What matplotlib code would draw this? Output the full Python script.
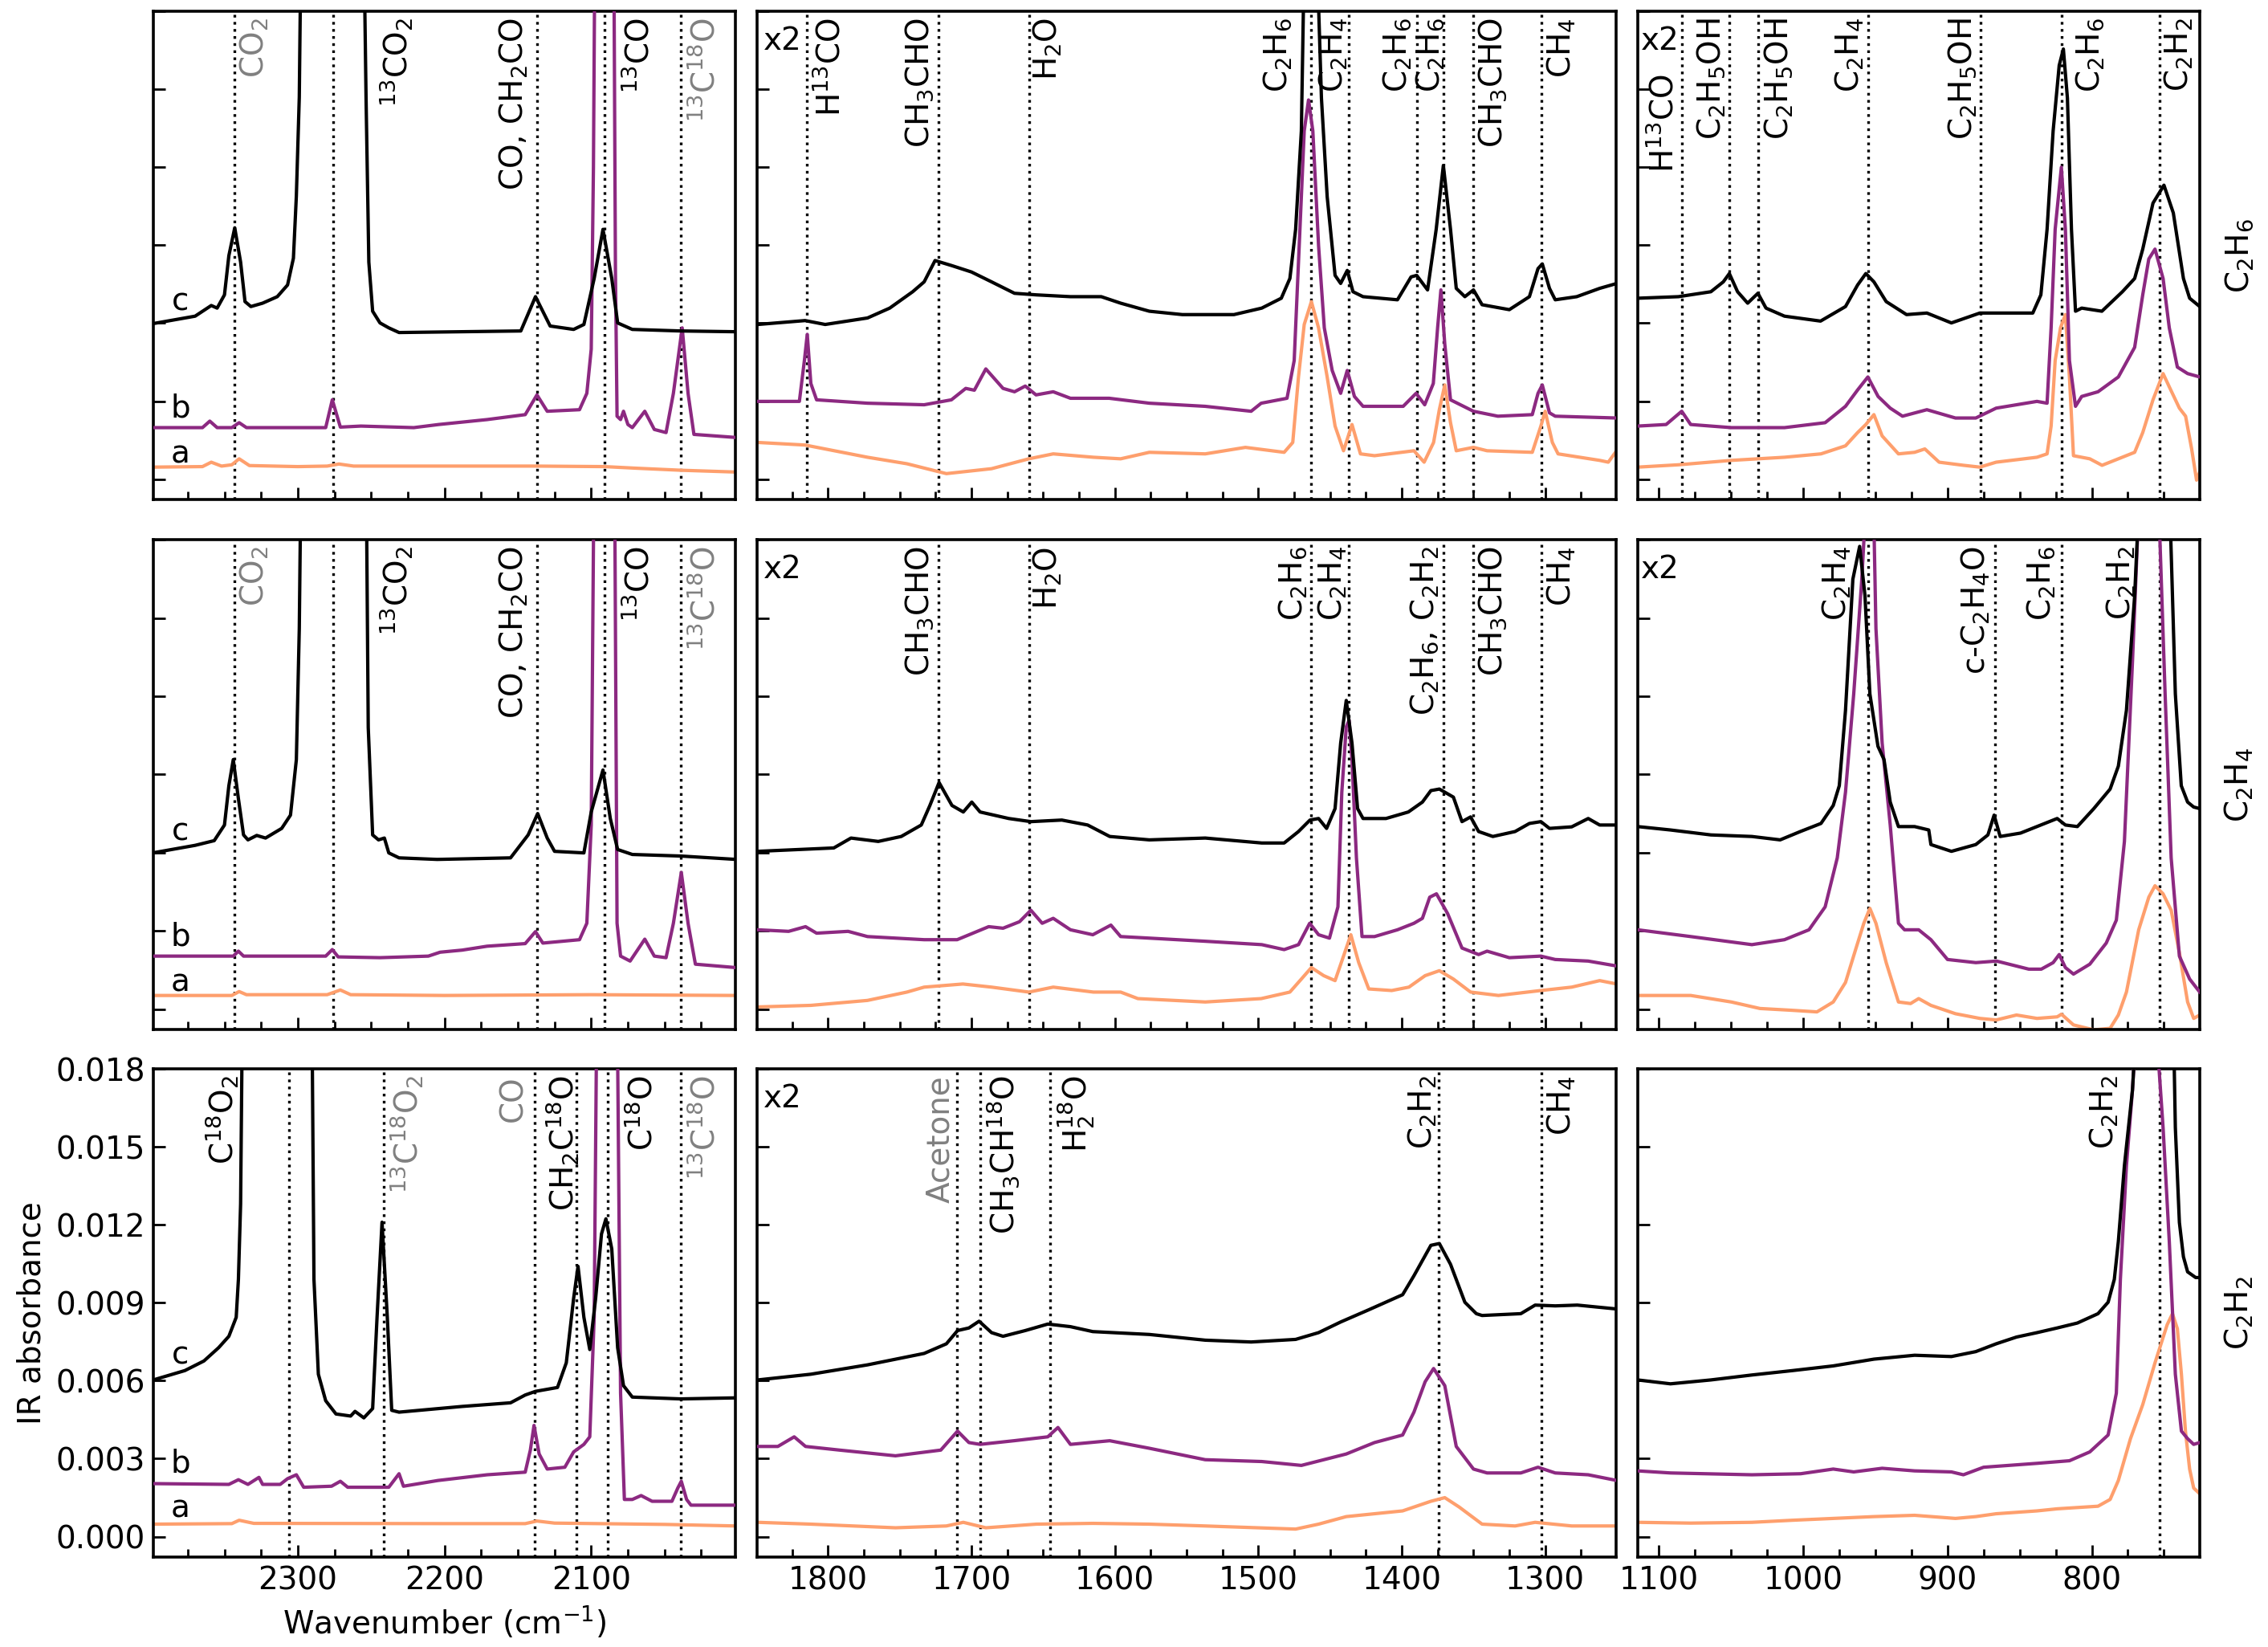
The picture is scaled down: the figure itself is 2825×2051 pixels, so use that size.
import numpy as np
import matplotlib
matplotlib.use('Agg')
import matplotlib.pyplot as plt
from matplotlib.ticker import MultipleLocator, FormatStrFormatter, NullFormatter

plt.rcParams['font.family'] = ['DejaVu Sans']
plt.rcParams['mathtext.default'] = 'regular'
plt.rcParams['font.size'] = 14

# ---------------- data (wavenumber cm^-1, absorbance x 1e3 as plotted) ----------------
MILLI = 1e-3
XLIMS = [(2398.5, 2001.5), (1849.5, 1250.5), (1114.7, 725.2)]
YLIM = (-0.0008, 0.018)
YTICKS = [0.0, 0.003, 0.006, 0.009, 0.012, 0.015, 0.018]
ROW_NAMES = [r'C$_2$H$_6$', r'C$_2$H$_4$', r'C$_2$H$_2$']
CURVE_LETTERS = ['a', 'b', 'c']

# ---- C2H6 row ----
c2h6_hi_a = [(2399, 0.46), (2365, 0.48), (2359, 0.65), (2352, 0.50), (2345, 0.55), (2340, 0.78),
             (2333, 0.52), (2300, 0.48), (2280, 0.50), (2272, 0.58), (2262, 0.50), (2138, 0.50),
             (2091, 0.48), (2070, 0.42), (2039, 0.34), (2001, 0.27)]
c2h6_hi_b = [(2399, 1.98), (2365, 1.98), (2360, 2.23), (2355, 1.98), (2345, 1.98), (2340, 2.17),
             (2335, 1.98), (2281, 1.98), (2276.5, 3.05), (2271, 2.00), (2257, 2.04), (2221, 1.98),
             (2204, 2.10), (2171, 2.29), (2145, 2.48), (2137, 3.24), (2130, 2.61), (2108, 2.67),
             (2103, 3.30), (2100, 5.0), (2098.5, 12), (2097, 25), (2085, 25), (2083.5, 8),
             (2082.4, 2.42), (2080, 2.29), (2078, 2.61), (2075, 2.1), (2072, 1.98), (2063.5, 2.61),
             (2057, 1.91), (2049, 1.79), (2044, 3.30), (2038, 5.82), (2034, 3.30), (2030, 1.72),
             (2001, 1.60)]
c2h6_hi_c = [(2399, 5.98), (2370, 6.27), (2359, 6.68), (2355, 6.58), (2350, 7.09), (2347, 8.60),
             (2343, 9.67), (2339, 8.35), (2336, 6.83), (2332, 6.64), (2324, 6.77), (2314, 7.02),
             (2307, 7.47), (2303, 8.5), (2301, 10.9), (2299, 14.7), (2297, 25), (2256, 25),
             (2253.5, 14.7), (2251.6, 8.35), (2249, 6.46), (2244, 6.01), (2238, 5.82), (2231, 5.64),
             (2148, 5.70), (2138, 7.02), (2128, 5.89), (2112, 5.76), (2105, 5.95), (2098, 7.72),
             (2092, 9.61), (2086, 7.72), (2082, 6.01), (2072, 5.76), (2039, 5.70), (2001, 5.67)]

c2h6_mid_a = [(1849, 1.41), (1816, 1.31), (1772.5, 0.84), (1745, 0.59), (1717.5, 0.21), (1686, 0.40),
              (1660, 0.78), (1643, 0.97), (1615, 0.84), (1596, 0.78), (1576, 1.03), (1537, 0.97),
              (1509, 1.22), (1482, 1.03), (1476, 1.41), (1472, 3.93), (1468, 5.95), (1463, 6.83),
              (1458, 5.82), (1452, 3.93), (1446.5, 2.04), (1440.6, 1.09), (1434.7, 2.10), (1428.8, 0.97),
              (1419, 0.90), (1391.5, 1.09), (1384.4, 0.65), (1377.8, 1.41), (1373.8, 2.67), (1370, 3.62),
              (1366, 2.17), (1362, 1.09), (1350, 1.22), (1340.5, 1.09), (1309, 1.03), (1303, 2.04),
              (1300, 2.61), (1295, 1.41), (1291, 0.97), (1262, 0.72), (1256, 0.65), (1251, 1.03)]
c2h6_mid_b = [(1849, 2.99), (1820, 2.99), (1816.5, 4.56), (1814.5, 5.57), (1812, 3.68), (1808, 3.05),
              (1772.5, 2.92), (1733, 2.86), (1714, 3.05), (1704, 3.49), (1698, 3.42), (1690, 4.24),
              (1678, 3.49), (1670, 3.36), (1662.5, 3.58), (1655, 3.24), (1643, 3.36), (1631, 3.11),
              (1604, 3.11), (1576, 2.92), (1537, 2.80), (1505, 2.61), (1498, 2.92), (1480, 3.11),
              (1475, 4.56), (1472, 8.35), (1468, 13.4), (1465, 14.59), (1462, 13.4), (1458, 8.98),
              (1454, 5.82), (1448.5, 4.18), (1442.6, 3.30), (1438, 4.18), (1433, 3.18), (1427, 2.80),
              (1399, 2.80), (1390, 3.30), (1384, 2.86), (1378, 3.68), (1375, 5.82), (1372.7, 7.28),
              (1370, 5.19), (1366, 3.05), (1350, 2.61), (1333, 2.42), (1309, 2.48), (1305, 3.30),
              (1302, 3.62), (1297, 2.55), (1293, 2.42), (1250, 2.35)]
c2h6_mid_c = [(1849, 5.95), (1816, 6.10), (1802, 5.95), (1772.5, 6.20), (1757, 6.58), (1741, 7.21),
              (1733, 7.59), (1725.4, 8.41), (1714, 8.22), (1700, 7.97), (1686, 7.59), (1670, 7.15),
              (1655, 7.09), (1631, 7.02), (1609.5, 7.02), (1596, 6.77), (1576, 6.46), (1553, 6.33),
              (1517, 6.33), (1497.6, 6.58), (1484, 6.96), (1478, 7.72), (1474, 9.61), (1470, 13.4),
              (1468, 20), (1464, 25), (1459, 20), (1456, 14.66), (1452, 10.87), (1446.5, 7.84),
              (1442.6, 7.53), (1438, 8.03), (1434, 7.21), (1427, 7.02), (1403, 6.90), (1393.5, 7.78),
              (1389.6, 7.84), (1382, 7.28), (1376, 9.61), (1371, 12.07), (1366, 9.61), (1362, 7.34),
              (1356, 7.02), (1350, 7.28), (1344, 6.71), (1325, 6.52), (1311, 7.02), (1305, 8.10),
              (1302, 8.28), (1297, 7.34), (1293, 6.90), (1278, 7.02), (1262, 7.34), (1250, 7.53)]

c2h6_lo_a = [(1114.7, 0.46), (1086.5, 0.55), (1049.8, 0.72), (1013, 0.84), (987.7, 0.97), (970.7, 1.28),
             (962.3, 1.79), (956.6, 2.10), (951, 2.48), (945.3, 1.66), (934, 0.97), (922.8, 1.03),
             (915.7, 1.16), (905.8, 0.65), (888.9, 0.53), (877.6, 0.46), (866.3, 0.65), (838, 0.84),
             (831, 0.97), (828.2, 2.04), (825.4, 4.56), (821.7, 5.82), (818.3, 6.33), (815.5, 3.93),
             (812.7, 0.90), (801.4, 0.78), (792.9, 0.53), (781.6, 0.78), (770.3, 1.03), (764.7, 1.79),
             (757.6, 3.05), (750.6, 4.06), (746.3, 3.55), (739.3, 2.73), (735, 2.42), (730.8, 1.16),
             (727.4, -0.04), (725.2, 0.27)]
c2h6_lo_b = [(1114.7, 2.04), (1095, 2.10), (1084.2, 2.61), (1078, 2.10), (1049.8, 1.98), (1013, 1.98),
             (984.8, 2.17), (970.7, 2.80), (962.3, 3.43), (955.2, 3.93), (948.1, 3.18), (939.7, 2.73),
             (931.2, 2.42), (914.3, 2.67), (894.5, 2.35), (880.4, 2.35), (866.3, 2.73), (838, 2.99),
             (831, 2.92), (828.2, 5.82), (825.4, 9.61), (821.1, 12.0), (818.3, 9.61), (815.5, 4.56),
             (811.3, 2.80), (807, 3.18), (795.7, 3.36), (781.6, 3.93), (770.3, 5.07), (764.7, 7.09),
             (760.5, 8.47), (756.2, 8.85), (750.6, 7.72), (746.3, 5.82), (740.7, 4.31), (733.6, 4.06),
             (725.2, 3.93)]
c2h6_lo_c = [(1114.7, 6.96), (1086.5, 7.02), (1064, 7.21), (1055.4, 7.59), (1051.2, 7.91), (1045.5, 7.21),
             (1038.5, 6.77), (1031.4, 7.15), (1025.8, 6.58), (1013, 6.27), (988, 6.08), (970.7, 6.64),
             (962.3, 7.47), (956.6, 7.91), (951, 7.59), (942.5, 6.83), (928.4, 6.33), (914.3, 6.39),
             (897.3, 6.01), (877.6, 6.39), (840.9, 6.39), (835.3, 7.09), (831, 9.61), (826.8, 13.4),
             (822.6, 15.92), (819.7, 16.55), (816.9, 14.66), (814.1, 9.61), (811.3, 6.46), (807, 6.58),
             (793, 6.46), (778.8, 7.21), (770.3, 7.72), (764.7, 8.85), (757.6, 10.62), (750, 11.31),
             (743.5, 10.24), (736.5, 7.72), (732.2, 6.96), (725.2, 6.64)]

# ---- C2H4 row ----
c2h4_hi_a = [(2399, 0.52), (2345, 0.52), (2340, 0.67), (2335, 0.55), (2280, 0.55), (2271, 0.73),
             (2264, 0.55), (2200, 0.52), (2100, 0.55), (2001.5, 0.52)]
c2h4_hi_b = [(2399, 2.03), (2344, 2.03), (2340.5, 2.22), (2337, 2.03), (2281, 2.03), (2276.5, 2.28),
             (2272.5, 2.00), (2244, 1.97), (2211, 2.03), (2203, 2.18), (2188, 2.26), (2171, 2.41),
             (2145, 2.51), (2138, 2.97), (2133, 2.53), (2108, 2.66), (2103, 3.29), (2100, 7.06),
             (2097.5, 25), (2084.5, 25), (2082.4, 3.29), (2080, 2.03), (2073.5, 1.84), (2063.5, 2.68),
             (2057, 2.03), (2049, 1.97), (2044, 3.29), (2038.6, 5.24), (2034, 3.29), (2029, 1.72),
             (2001.5, 1.59)]
c2h4_hi_c = [(2399, 5.99), (2370, 6.28), (2357, 6.46), (2350, 7.06), (2347, 8.57), (2344, 9.57),
             (2340.5, 8.07), (2337, 6.68), (2334, 6.49), (2328, 6.66), (2322, 6.56), (2311, 6.93),
             (2305, 7.44), (2301, 9.57), (2299, 14.6), (2297, 25), (2254, 25), (2252, 10.8),
             (2249, 6.68), (2245, 6.49), (2241, 6.56), (2238, 5.99), (2231, 5.80), (2205, 5.74),
             (2155, 5.80), (2143, 6.68), (2136.5, 7.50), (2130, 6.56), (2125, 6.05), (2105, 5.99),
             (2100, 7.56), (2092, 9.17), (2087, 7.31), (2082, 6.12), (2072, 5.93), (2039, 5.87),
             (2001, 5.74)]

c2h4_mid_a = [(1849, 0.08), (1812, 0.14), (1772.5, 0.33), (1745, 0.65), (1733, 0.84), (1706, 0.96),
              (1686, 0.84), (1660, 0.65), (1643, 0.84), (1615, 0.65), (1596, 0.65), (1584, 0.40),
              (1537, 0.27), (1498, 0.40), (1478, 0.65), (1470, 1.15), (1463, 1.59), (1454.4, 1.28),
              (1446.5, 1.09), (1440.6, 2.03), (1435.5, 2.85), (1430, 1.78), (1423, 0.77), (1407, 0.71),
              (1395, 0.84), (1383.7, 1.28), (1373.8, 1.47), (1364, 1.15), (1352, 0.65), (1332.6, 0.52),
              (1303, 0.71), (1281.5, 0.84), (1262, 1.09), (1250, 0.96)]
c2h4_mid_b = [(1849, 3.04), (1827.5, 2.98), (1815.7, 3.16), (1808, 2.91), (1786, 2.98), (1772.5, 2.78),
              (1733, 2.66), (1710, 2.66), (1688, 3.16), (1678, 3.10), (1666.5, 3.35), (1658.6, 3.79),
              (1650.7, 3.29), (1643, 3.48), (1631, 3.04), (1615.4, 2.85), (1602.8, 3.22), (1596, 2.78),
              (1576, 2.72), (1537, 2.60), (1497.6, 2.47), (1482, 2.28), (1472, 2.47), (1464.2, 3.29),
              (1458, 2.85), (1450.4, 2.72), (1444.5, 3.92), (1441.8, 8.32), (1438.7, 10.83),
              (1436.7, 11.08), (1434.7, 9.57), (1431.6, 5.80), (1427.7, 2.78), (1419, 2.78),
              (1403, 3.04), (1391.5, 3.29), (1385.6, 3.48), (1380.5, 4.29), (1375.8, 4.42), (1368, 3.66),
              (1358, 2.34), (1346.4, 2.09), (1340.5, 2.22), (1325, 1.97), (1303, 2.03), (1293, 1.90),
              (1270, 1.84), (1250, 1.65)]
c2h4_mid_c = [(1849, 6.05), (1796, 6.18), (1784, 6.56), (1765, 6.43), (1749, 6.62), (1735, 7.06),
              (1729, 7.81), (1722.6, 8.69), (1713.6, 7.81), (1705.7, 7.56), (1699.8, 7.94), (1694, 7.56),
              (1674, 7.31), (1658.6, 7.19), (1637, 7.25), (1619, 7.06), (1603.6, 6.62), (1576, 6.49),
              (1537, 6.56), (1497.6, 6.37), (1482, 6.37), (1472, 6.81), (1464, 7.25), (1458, 7.31),
              (1452.4, 6.93), (1446.5, 7.69), (1442.6, 10.2), (1438.7, 11.84), (1434.7, 10.2),
              (1430.8, 7.69), (1427, 7.31), (1411, 7.31), (1395.4, 7.56), (1385.6, 7.94), (1379.7, 8.38),
              (1373.8, 8.44), (1364, 8.13), (1358, 7.19), (1352, 7.37), (1346.4, 6.81), (1336.5, 6.62),
              (1321, 6.81), (1311, 7.12), (1303, 7.19), (1297, 6.93), (1281.5, 6.99), (1270, 7.31),
              (1262, 7.06), (1250, 7.06)]

c2h4_lo_a = [(1114.7, 0.52), (1078, 0.52), (1049.8, 0.27), (1030, 0.02), (1007.4, -0.05), (990.5, -0.11),
             (979.2, 0.27), (970.7, 1.02), (963.7, 2.28), (958, 3.29), (953.8, 3.86), (949.6, 3.29),
             (942.5, 1.78), (934, 0.27), (925.6, 0.21), (920, 0.40), (911.5, 0.14), (894.5, -0.18),
             (877.6, -0.36), (866.3, -0.42), (852.2, -0.23), (838, -0.36), (824, -0.30), (821, -0.20),
             (812.7, -0.61), (798.6, -0.80), (787.3, -0.74), (781.6, -0.23), (776, 0.65), (767.5, 3.04),
             (760.5, 4.29), (756.2, 4.73), (750.6, 4.42), (745, 3.79), (739.3, 2.16), (733.6, 0.27),
             (729.4, -0.36), (725.2, -0.23)]
c2h4_lo_b = [(1114.7, 3.04), (1078, 2.78), (1035.6, 2.47), (1013, 2.66), (996, 3.04), (984.8, 3.92),
             (976.4, 5.80), (970.7, 8.32), (965, 12.09), (959.4, 16.49), (956, 20), (951.5, 20),
             (949.6, 14.6), (945.3, 10.2), (939.7, 7.06), (934, 3.29), (929.8, 3.04), (920, 3.04),
             (911.5, 2.66), (900, 1.90), (880.4, 1.78), (866, 1.84), (843.7, 1.53), (835, 1.53),
             (826.8, 1.78), (822.6, 2.09), (818.3, 1.59), (812.7, 1.34), (801.4, 1.72), (790, 2.53),
             (783, 3.41), (777.4, 6.43), (771.8, 13.35), (766.9, 20), (760, 25), (754, 20),
             (749.2, 12.09), (745, 5.80), (739.3, 2.03), (732.2, 1.15), (725.2, 0.65)]
c2h4_lo_c = [(1114.7, 7.00), (1092, 6.87), (1064, 6.68), (1035.6, 6.62), (1016, 6.49), (1002, 6.81),
             (987.7, 7.12), (979.2, 7.81), (975, 8.57), (970.7, 11.46), (965.6, 16.49), (960.9, 17.75),
             (957.2, 15.86), (953.8, 12.09), (948.2, 10.08), (944, 9.57), (939.7, 7.94), (934, 7.00),
             (922.8, 7.00), (913, 6.87), (911.5, 6.31), (897.3, 6.05), (880.4, 6.31), (872, 6.68),
             (867.7, 7.44), (863.5, 6.62), (849.4, 6.75), (824, 7.31), (818.3, 7.06), (810, 7.00),
             (798.6, 7.69), (787.3, 8.44), (781.6, 9.32), (776, 11.46), (770.3, 15.86), (766.9, 20),
             (760, 25), (750, 25), (746.3, 20), (742.1, 12.09), (738, 8.57), (733.6, 7.94),
             (729.4, 7.75), (725.2, 7.69)]

# ---- C2H2 row ----
c2h2_hi_a = [(2398.5, 0.48), (2345, 0.50), (2340, 0.63), (2330, 0.51), (2200, 0.50), (2145, 0.50),
             (2137, 0.60), (2125, 0.52), (2050, 0.47), (2001.5, 0.41)]
c2h2_hi_b = [(2398.5, 2.04), (2347, 2.01), (2340.5, 2.19), (2334, 2.01), (2326.5, 2.28), (2324, 2.01),
             (2312, 2.01), (2307, 2.23), (2301, 2.38), (2296, 1.90), (2277, 1.94), (2271, 2.13),
             (2266, 1.90), (2238, 1.90), (2231, 2.42), (2228, 1.94), (2204.5, 2.16), (2171, 2.38),
             (2145, 2.48), (2141.5, 3.33), (2139, 4.28), (2135.5, 3.18), (2130, 2.60), (2118, 2.67),
             (2112, 3.26), (2105, 3.55), (2101, 3.84), (2098, 8.44), (2095.5, 25), (2083, 25),
             (2080, 5.52), (2077.4, 1.43), (2072, 1.43), (2066, 1.58), (2058.5, 1.36), (2045, 1.36),
             (2041, 1.87), (2038.6, 2.13), (2035, 1.43), (2032, 1.21), (2001.5, 1.21)]
c2h2_hi_c = [(2398.5, 6.03), (2377, 6.39), (2364, 6.76), (2354, 7.27), (2347, 7.71), (2342, 8.44),
             (2340.5, 9.90), (2339, 12.8), (2337, 25), (2291, 25), (2289, 9.90), (2286, 6.25),
             (2281, 5.23), (2274, 4.72), (2264, 4.64), (2261, 4.82), (2255, 4.57), (2249, 4.93),
             (2246, 8.44), (2242.6, 12.1), (2239, 8.44), (2236, 4.86), (2231, 4.79), (2188, 5.01),
             (2155, 5.15), (2145, 5.45), (2138, 5.59), (2123, 5.74), (2117, 6.69), (2112, 9.17),
             (2109, 10.4), (2105, 8.44), (2101, 7.20), (2097, 9.17), (2093, 11.65), (2090, 12.23),
             (2086, 11.07), (2082, 7.27), (2078, 5.81), (2072, 5.37), (2039, 5.30), (2001.5, 5.34)]

c2h2_mid_a = [(1849, 0.55), (1812, 0.48), (1753, 0.34), (1717.5, 0.41), (1705.7, 0.55), (1690, 0.34),
              (1654.7, 0.48), (1615.4, 0.51), (1576, 0.48), (1537, 0.41), (1474, 0.29), (1458, 0.48),
              (1438.7, 0.77), (1399.4, 0.99), (1379.7, 1.36), (1370, 1.50), (1360, 1.14), (1344, 0.48),
              (1321, 0.41), (1307, 0.55), (1281.5, 0.41), (1250, 0.41)]
c2h2_mid_b = [(1849, 3.47), (1835, 3.47), (1823.6, 3.84), (1815.7, 3.47), (1792, 3.33), (1753, 3.11),
              (1721.4, 3.33), (1709.7, 4.06), (1701.8, 3.62), (1694, 3.55), (1670.4, 3.69), (1646.8, 3.84),
              (1639.7, 4.20), (1631, 3.55), (1603.6, 3.69), (1576, 3.40), (1537, 2.96), (1497.6, 2.89),
              (1470, 2.74), (1438.7, 3.18), (1419, 3.62), (1399.4, 3.91), (1391.5, 4.79), (1383.7, 5.96),
              (1377.8, 6.47), (1370, 5.81), (1362, 3.47), (1350, 2.60), (1340.5, 2.45), (1317, 2.45),
              (1305, 2.67), (1293, 2.45), (1270, 2.38), (1250, 2.16)]
c2h2_mid_c = [(1849, 6.03), (1812, 6.25), (1772.5, 6.61), (1733, 7.05), (1717.5, 7.42), (1709.7, 7.93),
              (1701.8, 8.03), (1694.7, 8.29), (1686, 7.85), (1678, 7.71), (1662.5, 7.93), (1646.8, 8.18),
              (1631, 8.08), (1615.4, 7.89), (1576, 7.78), (1537, 7.56), (1505, 7.49), (1474, 7.59),
              (1458, 7.85), (1442.6, 8.26), (1423, 8.73), (1399.4, 9.31), (1391.5, 10.04),
              (1379.7, 11.21), (1373.8, 11.28), (1366, 10.48), (1356, 9.02), (1348, 8.58), (1344, 8.51),
              (1317, 8.58), (1307, 8.91), (1293, 8.88), (1277.6, 8.91), (1250, 8.76)]

c2h2_lo_a = [(1114.7, 0.55), (1078, 0.52), (1035.6, 0.55), (1007.4, 0.63), (979.2, 0.70), (951, 0.77),
             (922.8, 0.82), (894.5, 0.70), (880.4, 0.77), (866.3, 0.88), (838, 0.99), (824, 1.07),
             (795.7, 1.17), (787.3, 1.43), (781.6, 2.16), (773.2, 3.77), (764.7, 5.08), (756.2, 6.69),
             (747.8, 8.15), (744.1, 8.58), (740.7, 8.0), (737.9, 6.25), (735.1, 4.06), (732.2, 2.60),
             (729.4, 1.87), (725.2, 1.65)]
c2h2_lo_b = [(1114.7, 2.53), (1092, 2.45), (1035.6, 2.38), (1001.8, 2.42), (979.2, 2.60), (965, 2.49),
             (945.3, 2.63), (922.8, 2.53), (897.3, 2.49), (889, 2.38), (875, 2.67), (838, 2.82),
             (815.5, 2.92), (801.4, 3.26), (788.7, 3.91), (783, 5.52), (780.2, 9.90), (776, 14.28),
             (771.8, 17.20), (768.9, 20), (762, 25), (755, 20), (753.4, 18), (750.6, 15.74),
             (746.3, 11.36), (742.1, 6.25), (737.9, 4.06), (733.6, 3.77), (729.4, 3.55), (725.2, 3.62)]
c2h2_lo_c = [(1114.7, 6.03), (1092, 5.88), (1064, 6.03), (1035.6, 6.22), (1007.4, 6.39), (979.2, 6.57),
             (951, 6.83), (922.8, 6.98), (897.3, 6.93), (880.4, 7.12), (866.3, 7.42), (852.2, 7.68),
             (838, 7.85), (824, 8.03), (810, 8.22), (795.7, 8.58), (788.7, 9.02), (784.4, 9.90),
             (781.6, 11.36), (777.4, 14.28), (771.8, 17.20), (768.9, 20), (760, 25), (750, 25),
             (743.5, 20), (742.1, 15.74), (739.3, 12.09), (736.5, 10.77), (733.6, 10.19), (728, 9.97),
             (725.2, 9.97)]

# ---- assignment markers: (wavenumber lines), (label x, text, colour) ----
GRAY = '#808080'
K = 'black'
hi_lines_top = [2343, 2276, 2137, 2091, 2039]
hi_labels_top = [(2329.5, r'CO$_2$', GRAY), (2233, r'$^{13}$CO$_2$', K), (2153, r'CO, CH$_2$CO', K),
                 (2067, r'$^{13}$CO', K), (2022, r'$^{13}$C$^{18}$O', GRAY)]
hi_lines_bot = [2306, 2241.5, 2138.5, 2110, 2089, 2039]
hi_labels_bot = [(2352, r'C$^{18}$O$_2$', K), (2226, r'$^{13}$C$^{18}$O$_2$', GRAY), (2153, 'CO', GRAY),
                 (2120, r'CH$_2$C$^{18}$O', K), (2065, r'C$^{18}$O', K), (2022, r'$^{13}$C$^{18}$O', GRAY)]
mid_lines_1 = [1815, 1723, 1660, 1463.5, 1437, 1389.5, 1371, 1350, 1302.5]
mid_labels_1 = [(1798, r'H$^{13}$CO', K), (1736.5, r'CH$_3$CHO', K), (1647, r'H$_2$O', K),
                (1486.5, r'C$_2$H$_6$', K), (1447.5, r'C$_2$H$_4$', K), (1403.5, r'C$_2$H$_6$', K),
                (1380.5, r'C$_2$H$_6$', K), (1336.5, r'CH$_3$CHO', K), (1288.5, r'CH$_4$', K)]
mid_lines_2 = [1723, 1660, 1463.5, 1437, 1371, 1350, 1302.5]
mid_labels_2 = [(1736.5, r'CH$_3$CHO', K), (1647, r'H$_2$O', K), (1476, r'C$_2$H$_6$', K),
                (1448.5, r'C$_2$H$_4$', K), (1384.5, r'C$_2$H$_6$, C$_2$H$_2$', K),
                (1336.5, r'CH$_3$CHO', K), (1288.5, r'CH$_4$', K)]
mid_lines_3 = [1710, 1694, 1645, 1374.5, 1302.5]
mid_labels_3 = [(1721.5, 'Acetone', GRAY), (1678, r'CH$_3$CH$^{18}$O', K), (1627, r'H$_2^{18}$O', K),
                (1385.5, r'C$_2$H$_2$', K), (1288.5, r'CH$_4$', K)]
lo_lines_1 = [1084, 1051, 1031, 955, 877, 821, 753]
lo_labels_1 = [(1096.5, r'H$^{13}$CO', K), (1064, r'C$_2$H$_5$OH', K), (1017, r'C$_2$H$_5$OH', K),
               (968, r'C$_2$H$_4$', K), (890, r'C$_2$H$_5$OH', K), (801.5, r'C$_2$H$_6$', K),
               (739.5, r'C$_2$H$_2$', K)]
lo_lines_2 = [955, 867, 821, 753]
lo_labels_2 = [(976.5, r'C$_2$H$_4$', K), (880.5, r'c-C$_2$H$_4$O', K), (835.5, r'C$_2$H$_6$', K),
               (780, r'C$_2$H$_2$', K)]
lo_lines_3 = [753]
lo_labels_3 = [(791.5, r'C$_2$H$_2$', K)]

# letter label positions for left column (x, y in 1e-3 abs) for a, b, c
letters_pos = [[(2380, 0.97), (2380, 2.73), (2380, 6.83)],
               [(2380, 1.02), (2380, 2.78), (2380, 6.81)],
               [(2380, 1.07), (2380, 2.82), (2380, 6.98)]]

CURVES = [[(c2h6_hi_a, c2h6_hi_b, c2h6_hi_c), (c2h6_mid_a, c2h6_mid_b, c2h6_mid_c), (c2h6_lo_a, c2h6_lo_b, c2h6_lo_c)],
          [(c2h4_hi_a, c2h4_hi_b, c2h4_hi_c), (c2h4_mid_a, c2h4_mid_b, c2h4_mid_c), (c2h4_lo_a, c2h4_lo_b, c2h4_lo_c)],
          [(c2h2_hi_a, c2h2_hi_b, c2h2_hi_c), (c2h2_mid_a, c2h2_mid_b, c2h2_mid_c), (c2h2_lo_a, c2h2_lo_b, c2h2_lo_c)]]
LINES = [[hi_lines_top, mid_lines_1, lo_lines_1],
         [hi_lines_top, mid_lines_2, lo_lines_2],
         [hi_lines_bot, mid_lines_3, lo_lines_3]]
LABELS = [[hi_labels_top, mid_labels_1, lo_labels_1],
          [hi_labels_top, mid_labels_2, lo_labels_2],
          [hi_labels_bot, mid_labels_3, lo_labels_3]]
SHOW_X2 = [[False, True, True], [False, True, True], [False, True, False]]

COLORS = ['#FE9F6D', '#8C2981', 'black']

# ---------------- layout ----------------
fig = plt.figure(figsize=(14.125, 10.255), dpi=200)
col_x = [(0.0676, 0.2568), (0.3338, 0.3788), (0.7221, 0.2478)]
row_y = [(0.6965, 0.2966), (0.3747, 0.2975), (0.0544, 0.2966)]

for r in range(3):
    for c in range(3):
        ax = fig.add_axes([col_x[c][0], row_y[r][0], col_x[c][1], row_y[r][1]])
        for sp in ax.spines.values():
            sp.set_linewidth(1.3)
        for wn in LINES[r][c]:
            ax.axvline(wn, color='black', ls=':', lw=1.2, zorder=1)
        for k, curve in enumerate(CURVES[r][c]):
            xs, ys = zip(*curve)
            ax.plot(np.array(xs), np.array(ys) * MILLI, color=COLORS[k], lw=1.5, zorder=2 + k)
        ax.set_xlim(*XLIMS[c])
        ax.set_ylim(*YLIM)
        ax.set_yticks(YTICKS)
        ax.xaxis.set_major_locator(MultipleLocator(100))
        ax.xaxis.set_minor_locator(MultipleLocator(25))
        ax.tick_params(axis='both', which='major', direction='in', length=5.5, width=1.0,
                       top=False, right=False, labelsize=14)
        ax.tick_params(axis='both', which='minor', direction='in', length=3.5, width=1.0,
                       top=False, right=False)
        ax.tick_params(axis='y', which='minor', left=False)
        if r < 2:
            ax.xaxis.set_major_formatter(NullFormatter())
        if not (r == 2 and c == 0):
            ax.yaxis.set_major_formatter(NullFormatter())
        else:
            ax.yaxis.set_major_formatter(FormatStrFormatter('%.3f'))
            ax.set_ylabel('IR absorbance', fontsize=14)
            ax.set_xlabel(r'Wavenumber (cm$^{-1}$)', fontsize=14)
        trans = ax.get_xaxis_transform()
        for (lx, txt, col) in LABELS[r][c]:
            ytop = 0.987
            if r == 0 and c == 2 and txt == r'H$^{13}$CO':
                ytop = 0.872
            ax.text(lx, ytop, txt, transform=trans, rotation=90, ha='center', va='top',
                    color=col, fontsize=14, zorder=6)
        if SHOW_X2[r][c]:
            ax.text(0.03 if c == 1 else 0.04, 0.94, 'x2', transform=ax.transAxes,
                    ha='center', va='center', fontsize=14)
        if c == 0:
            for (lx, ly), letter in zip(letters_pos[r], CURVE_LETTERS):
                ax.text(lx, ly * MILLI, letter, ha='center', va='center', fontsize=14, zorder=7)
    fig.text(0.9873, row_y[r][0] + row_y[r][1] / 2, ROW_NAMES[r], rotation=90,
             ha='center', va='center', fontsize=14)

fig.savefig('out.png', dpi=200)
